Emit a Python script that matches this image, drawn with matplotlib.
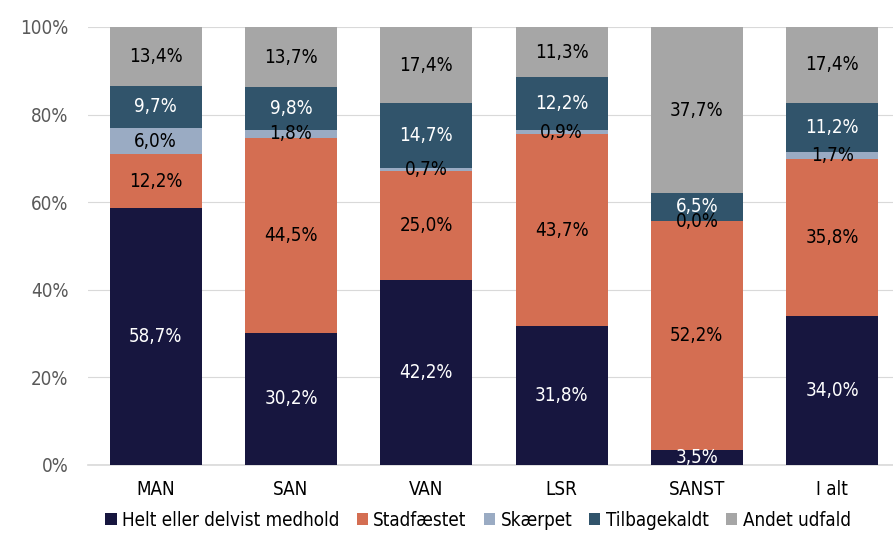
import numpy as np
import matplotlib
matplotlib.use("Agg")
import matplotlib.pyplot as plt
from matplotlib.ticker import FuncFormatter

plt.rcParams['font.family'] = ['DejaVu Sans']
plt.rcParams['font.stretch'] = 'condensed'

categories = ['MAN', 'SAN', 'VAN', 'LSR', 'SANST', 'I alt']
series_names = ['Helt eller delvist medhold', 'Stadfæstet', 'Skærpet', 'Tilbagekaldt', 'Andet udfald']
medhold = [58.7, 30.2, 42.2, 31.8, 3.5, 34.0]
stadfaestet = [12.2, 44.5, 25.0, 43.7, 52.2, 35.8]
skaerpet = [6.0, 1.8, 0.7, 0.9, 0.0, 1.7]
tilbagekaldt = [9.7, 9.8, 14.7, 12.2, 6.5, 11.2]
andet = [13.4, 13.7, 17.4, 11.3, 37.7, 17.4]

colors = ['#17163f', '#d46e52', '#9aabc3', '#31546b', '#a6a6a6']
text_colors = ['white', 'black', 'black', 'white', 'black']

fig = plt.figure(figsize=(8.93, 5.33), dpi=100)
ax = fig.add_axes([88/893, 1-465/533, (893-88)/893, (465-27)/533])

x = np.arange(len(categories))
bottom = np.zeros(len(categories))
for name, vals, c, tc in zip(series_names, [medhold, stadfaestet, skaerpet, tilbagekaldt, andet], colors, text_colors):
    vals = np.array(vals)
    ax.bar(x, vals, 0.68, bottom=bottom, color=c, label=name, zorder=3)
    for xi, b, v in zip(x, bottom, vals):
        ax.text(xi, b + v/2, f'{v:.1f}%'.replace('.', ','), ha='center', va='center',
                color=tc, fontsize=13.5, zorder=4)
    bottom += vals

ax.set_xlim(-0.5, 5.45)
ax.set_ylim(0, 100)
ax.set_yticks([0, 20, 40, 60, 80, 100])
ax.yaxis.set_major_formatter(FuncFormatter(lambda v, p: f'{v:.0f}%'))
ax.grid(axis='y', color='#d9d9d9', linewidth=0.8, zorder=0)
for s in ['top', 'right', 'left']:
    ax.spines[s].set_visible(False)
ax.spines['bottom'].set_color('#d9d9d9')
ax.spines['bottom'].set_linewidth(1.2)
ax.tick_params(axis='both', length=0)
ax.tick_params(axis='y', labelsize=13.5, labelcolor='#595959', pad=14)
ax.tick_params(axis='x', labelsize=13.5, pad=11)
ax.set_xticks(x)
ax.set_xticklabels(categories)

ax.legend(loc='center', bbox_to_anchor=(478/893, 1-520/533), bbox_transform=fig.transFigure,
          ncol=5, frameon=False, fontsize=13.5, handlelength=0.6, handleheight=0.6,
          handletextpad=0.3, columnspacing=0.9)

fig.savefig('out.png', dpi=100)
